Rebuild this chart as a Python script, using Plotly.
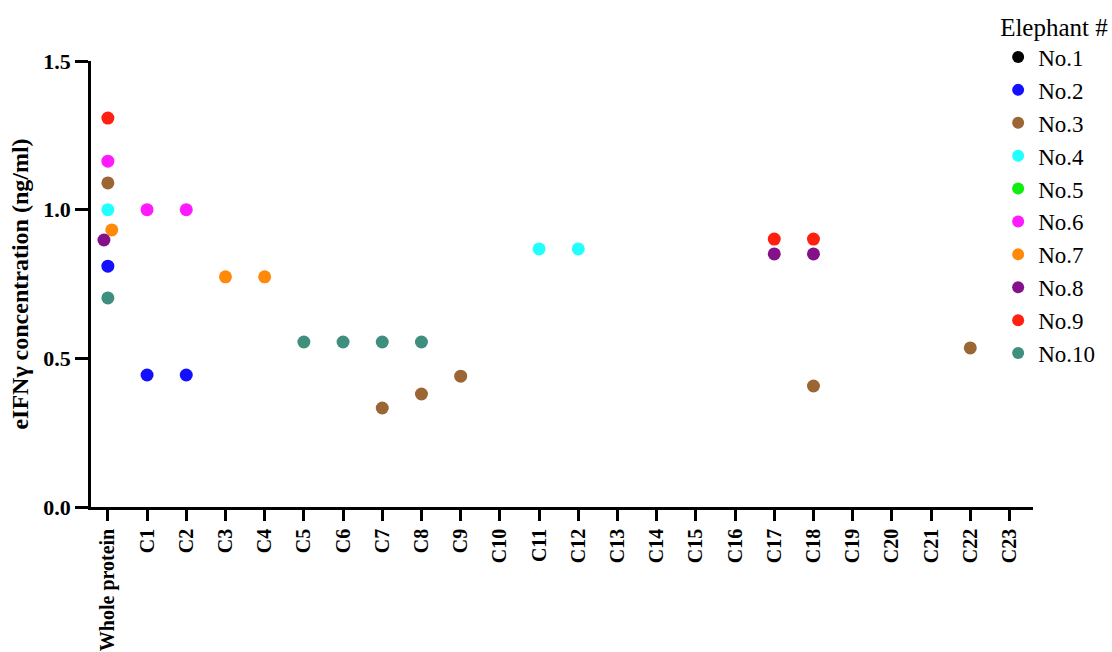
import plotly.graph_objects as go

# Peptide pools tested, in axis order
categories = ["Whole protein"] + [f"C{i}" for i in range(1, 24)]

elephants = ["No.1", "No.2", "No.3", "No.4", "No.5",
             "No.6", "No.7", "No.8", "No.9", "No.10"]
colors = ["#000000", "#1410ff", "#9c6634", "#22ffff", "#10ee10",
          "#ff1aff", "#ff8a0a", "#84108a", "#ff2010", "#3f8f7f"]

# eIFN-gamma responses (ng/ml) per elephant: pool names and values
no1_pools, no1_vals = [], []
no2_pools, no2_vals = ["Whole protein", "C1", "C2"], [0.81, 0.444, 0.444]
no3_pools = ["Whole protein", "C7", "C8", "C9", "C18", "C22"]
no3_vals = [1.09, 0.333, 0.38, 0.44, 0.407, 0.535]
no4_pools, no4_vals = ["Whole protein", "C11", "C12"], [1.0, 0.868, 0.868]
no5_pools, no5_vals = [], []
no6_pools, no6_vals = ["Whole protein", "C1", "C2"], [1.163, 1.0, 1.0]
no7_pools, no7_vals = ["Whole protein", "C3", "C4"], [0.932, 0.774, 0.774]
no8_pools, no8_vals = ["Whole protein", "C17", "C18"], [0.898, 0.851, 0.851]
no9_pools, no9_vals = ["Whole protein", "C17", "C18"], [1.308, 0.901, 0.901]
no10_pools = ["Whole protein", "C5", "C6", "C7", "C8"]
no10_vals = [0.703, 0.555, 0.555, 0.555, 0.555]

# small horizontal nudges so overlapping dots stay visible
nudge = {("No.7", "Whole protein"): 0.1, ("No.8", "Whole protein"): -0.1}

series = [(no1_pools, no1_vals), (no2_pools, no2_vals), (no3_pools, no3_vals),
          (no4_pools, no4_vals), (no5_pools, no5_vals), (no6_pools, no6_vals),
          (no7_pools, no7_vals), (no8_pools, no8_vals), (no9_pools, no9_vals),
          (no10_pools, no10_vals)]

serif = "Liberation Serif"

fig = go.Figure()
for name, color, (pools, vals) in zip(elephants, colors, series):
    if pools:
        xs = [categories.index(p) + nudge.get((name, p), 0) for p in pools]
        ys = vals
    else:
        xs, ys = [None], [None]
    fig.add_trace(go.Scatter(
        x=xs, y=ys, mode="markers", name=name,
        marker=dict(size=13, color=color, line=dict(width=0)),
    ))

fig.update_layout(
    width=1112, height=652,
    margin=dict(l=91, r=79, t=61, b=145, autoexpand=False),
    paper_bgcolor="white", plot_bgcolor="white",
    font=dict(family=serif, color="black"),
    showlegend=True,
    legend=dict(
        x=0.963, y=1.13, xanchor="left", yanchor="top",
        maxheight=620,
        font=dict(family=serif, size=23, color="black"),
        title=dict(text="Elephant #", font=dict(family=serif, size=25)),
        itemsizing="constant",
        bgcolor="rgba(0,0,0,0)",
    ),
)

fig.update_xaxes(
    range=[-0.43, 23.6], tickmode="array",
    tickvals=list(range(len(categories))), ticktext=categories,
    tickangle=-90, ticks="outside", ticklen=11, tickwidth=2.5, tickcolor="black",
    tickfont=dict(family=serif, size=20, weight="bold", color="black"),
    showline=True, linewidth=2.5, linecolor="black",
    showgrid=False, zeroline=False, automargin=False,
)
fig.update_yaxes(
    range=[0, 1.5], tickvals=[0, 0.5, 1.0, 1.5], tickformat=".1f",
    ticks="outside", ticklen=13, tickwidth=2.5, tickcolor="black",
    tickfont=dict(family=serif, size=22, weight="bold", color="black"),
    showline=True, linewidth=2.5, linecolor="black",
    showgrid=False, zeroline=False,
    title=dict(text="eIFNγ concentration (ng/ml)", standoff=8,
               font=dict(family=serif, size=24, weight="bold", color="black")),
    automargin=False,
)

fig.write_html("out.html")
